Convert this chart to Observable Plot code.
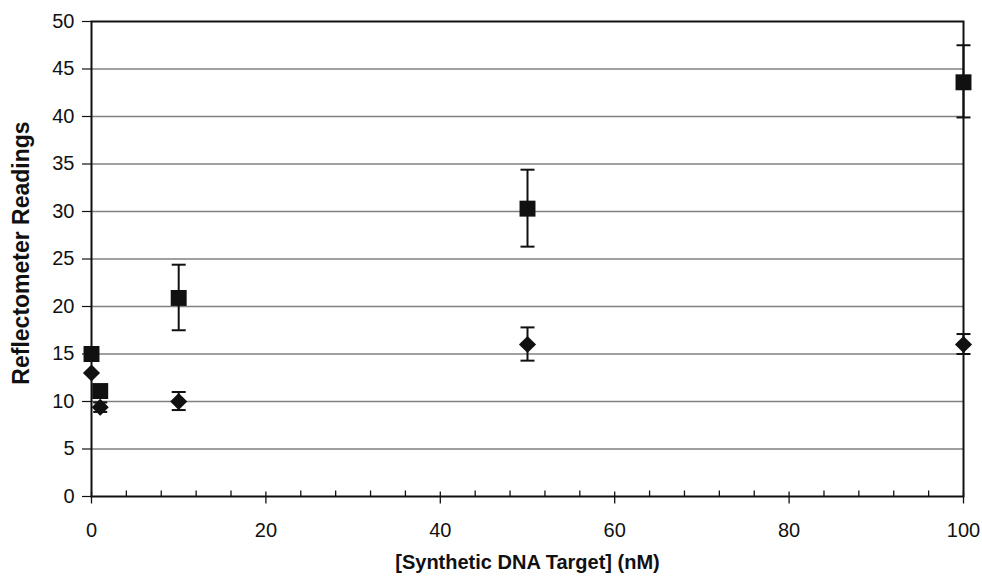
<!DOCTYPE html>
<html>
<head>
<meta charset="utf-8">
<script src="https://cdn.jsdelivr.net/npm/d3@7"></script>
<script src="https://cdn.jsdelivr.net/npm/@observablehq/plot@0.6"></script>
<style>
  body { margin: 0; background: #fff; }
</style>
</head>
<body>
<div id="chart"></div>
<script>
// Data
const concentration = [0, 1, 10, 50, 100];
const squareValues = [15, 11.1, 20.9, 30.3, 43.6];
const squareLow = [15, 10.6, 17.5, 26.3, 39.9];
const squareHigh = [15, 11.7, 24.4, 34.4, 47.5];
const diamondValues = [13, 9.4, 10, 16, 16];
const diamondLow = [13, 8.9, 9.1, 14.3, 15.0];
const diamondHigh = [13, 9.9, 11.0, 17.8, 17.1];

const yTicks = [0, 5, 10, 15, 20, 25, 30, 35, 40, 45, 50];
const xTicks = [0, 20, 40, 60, 80, 100];
const xMinorTicks = [4, 8, 12, 16, 24, 28, 32, 36, 44, 48, 52, 56, 64, 68, 72, 76, 84, 88, 92, 96];
const gridValues = [5, 10, 15, 20, 25, 30, 35, 40, 45];

const xLabel = "[Synthetic DNA Target] (nM)";
const yLabel = "Reflectometer Readings";

const squares = concentration.map((x, i) => ({x, y: squareValues[i], lo: squareLow[i], hi: squareHigh[i]}));
const diamonds = concentration.map((x, i) => ({x, y: diamondValues[i], lo: diamondLow[i], hi: diamondHigh[i]}));
const bars = [...squares, ...diamonds].filter(d => d.hi > d.lo);

// custom symbols
const capSymbol = {draw(ctx) { const w = 7; ctx.moveTo(-w, 0); ctx.lineTo(w, 0); }};
const minorTick = {draw(ctx) { ctx.moveTo(0, 0); ctx.lineTo(0, -6); }};
const majorTick = {draw(ctx) { ctx.moveTo(0, -5); ctx.lineTo(0, 7); }};

const ink = "#111";

const chart = Plot.plot({
  width: 982,
  height: 581,
  marginLeft: 91,
  marginRight: 19,
  marginTop: 21,
  marginBottom: 85,
  style: {fontFamily: "'Liberation Sans', Arial, sans-serif", fontSize: "20px", color: "#111", background: "#fff"},
  x: {domain: [0, 100]},
  y: {domain: [0, 50]},
  marks: [
    Plot.ruleY(gridValues, {stroke: "#808080", strokeWidth: 1.5}),
    Plot.frame({stroke: ink, strokeWidth: 2}),
    Plot.axisY({ticks: yTicks, tickSize: 9, tickPadding: 8, label: null, stroke: ink, strokeWidth: 1.2, fill: ink, fontSize: 20}),
    Plot.axisX({ticks: xTicks, tickSize: 0, tickPadding: 26, label: null, fill: ink, fontSize: 20}),
    Plot.dot(xTicks, {x: d => d, frameAnchor: "bottom", symbol: majorTick, stroke: ink, strokeWidth: 1.3}),
    Plot.dot(xMinorTicks, {x: d => d, frameAnchor: "bottom", symbol: minorTick, stroke: ink, strokeWidth: 1.3}),
    Plot.text([yLabel], {frameAnchor: "left", textAnchor: "middle", dx: -70, dy: -6, rotate: -90, fontWeight: "bold", fontSize: 23, fill: ink}),
    Plot.text([xLabel], {frameAnchor: "bottom", dy: 72, fontWeight: "bold", fontSize: 20, fill: ink}),
    Plot.ruleX(bars, {x: "x", y1: "lo", y2: "hi", stroke: ink, strokeWidth: 2}),
    Plot.dot(bars, {x: "x", y: "lo", symbol: capSymbol, stroke: ink, strokeWidth: 2}),
    Plot.dot(bars, {x: "x", y: "hi", symbol: capSymbol, stroke: ink, strokeWidth: 2}),
    Plot.dot(diamonds, {x: "x", y: "y", symbol: "diamond2", r: 7.7, fill: ink, stroke: "none"}),
    Plot.dot(squares, {x: "x", y: "y", symbol: "square", r: 9, fill: ink, stroke: "none"})
  ]
});
document.getElementById("chart").appendChild(chart);
</script>
</body>
</html>
